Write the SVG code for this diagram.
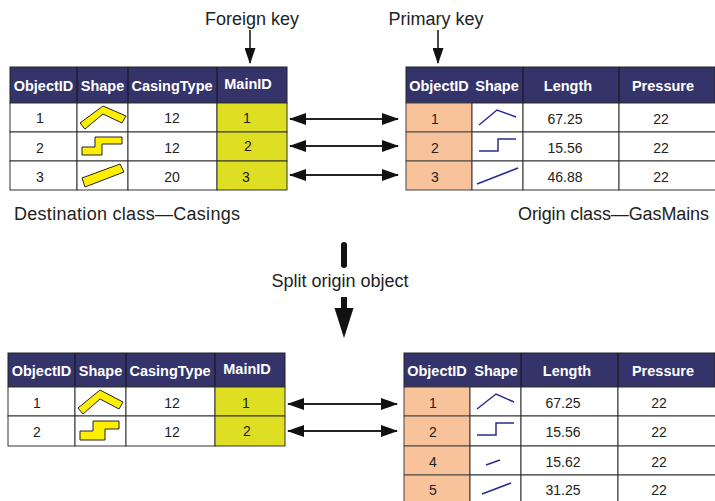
<svg xmlns="http://www.w3.org/2000/svg" width="715" height="501" viewBox="0 0 715 501">
<style>
text{font-family:"Liberation Sans",Arial,sans-serif;}
.hd{fill:#34346a;stroke:#222;stroke-width:1;}
.cell{fill:#fff;stroke:#333;stroke-width:1;}
.fk{fill:#dede22;stroke:#333;stroke-width:1;}
.pk{fill:#f8c39b;stroke:#444;stroke-width:1;}
.ht{fill:#fff;font-size:14.5px;font-weight:bold;text-anchor:middle;}
.ct{fill:#222;font-size:14px;text-anchor:middle;}
.lb{fill:#222;font-size:18px;}
.cas{fill:#ffee00;stroke:#222;stroke-width:1;stroke-linejoin:miter;}
.main{fill:none;stroke:#2b2b8f;stroke-width:1.5;}
.dbl{stroke:#222;stroke-width:2;fill:none;marker-start:url(#ah);marker-end:url(#ah);}
</style>
<defs>
<marker id="ah" viewBox="0 0 17 12" refX="16" refY="6" markerWidth="17" markerHeight="12" markerUnits="userSpaceOnUse" orient="auto-start-reverse">
<path d="M0,0 L17,6 L0,12 Z" fill="#111"/>
</marker>
<marker id="kh" viewBox="0 0 16 11" refX="15" refY="5.5" markerWidth="16" markerHeight="11" markerUnits="userSpaceOnUse" orient="auto">
<path d="M0,0 L16,5.5 L0,11 Z" fill="#111"/>
</marker>
</defs>
<rect width="715" height="501" fill="#fff"/>

<!-- Top left table: Casings -->
<g id="casings-top">
<rect class="hd" x="10" y="67" width="277" height="36"/>
<line x1="77" y1="67" x2="77" y2="103" stroke="#111"/>
<line x1="128" y1="67" x2="128" y2="103" stroke="#111"/>
<line x1="217" y1="67" x2="217" y2="103" stroke="#111"/>
<text class="ht" x="43.5" y="91">ObjectID</text>
<text class="ht" x="102.5" y="91">Shape</text>
<text class="ht" x="172" y="91">CasingType</text>
<text class="ht" x="248" y="89">MainID</text>
<rect class="cell" x="10" y="103" width="67" height="29"/>
<rect class="cell" x="77" y="103" width="51" height="29"/>
<rect class="cell" x="128" y="103" width="89" height="29"/>
<rect class="fk" x="217" y="103" width="70" height="29"/>
<rect class="cell" x="10" y="132" width="67" height="29"/>
<rect class="cell" x="77" y="132" width="51" height="29"/>
<rect class="cell" x="128" y="132" width="89" height="29"/>
<rect class="fk" x="217" y="132" width="70" height="29"/>
<rect class="cell" x="10" y="161" width="67" height="29"/>
<rect class="cell" x="77" y="161" width="51" height="29"/>
<rect class="cell" x="128" y="161" width="89" height="29"/>
<rect class="fk" x="217" y="161" width="70" height="29"/>
<polygon class="cas" points="85,129 80,123 103,106 126,116 122,123 103,114"/>
<polygon class="cas" points="82,147 95,147 95,137 122,137 122,144 102,144 102,155 82,155"/>
<polygon class="cas" points="85,187 82,178 120,164 124,172"/>
<text class="ct" x="40" y="123">1</text>
<text class="ct" x="172" y="123">12</text>
<text class="ct" x="247" y="123">1</text>
<text class="ct" x="40" y="153">2</text>
<text class="ct" x="172" y="153">12</text>
<text class="ct" x="248" y="151">2</text>
<text class="ct" x="40" y="182">3</text>
<text class="ct" x="172" y="182">20</text>
<text class="ct" x="246" y="182">3</text>
</g>

<!-- Top right table: GasMains -->
<g id="gasmains-top">
<rect class="hd" x="406" y="67" width="309" height="36"/>
<line x1="523" y1="67" x2="523" y2="103" stroke="#111"/>
<line x1="619" y1="67" x2="619" y2="103" stroke="#111"/>
<text class="ht" x="439" y="91">ObjectID</text>
<text class="ht" x="497" y="91">Shape</text>
<text class="ht" x="568" y="91">Length</text>
<text class="ht" x="663" y="91">Pressure</text>
<rect class="pk" x="406" y="103" width="66" height="29"/>
<rect class="cell" x="472" y="103" width="51" height="29"/>
<rect class="cell" x="523" y="103" width="96" height="29"/>
<rect class="cell" x="619" y="103" width="97" height="29"/>
<rect class="pk" x="406" y="132" width="66" height="29"/>
<rect class="cell" x="472" y="132" width="51" height="29"/>
<rect class="cell" x="523" y="132" width="96" height="29"/>
<rect class="cell" x="619" y="132" width="97" height="29"/>
<rect class="pk" x="406" y="161" width="66" height="29"/>
<rect class="cell" x="472" y="161" width="51" height="29"/>
<rect class="cell" x="523" y="161" width="96" height="29"/>
<rect class="cell" x="619" y="161" width="97" height="29"/>
<polyline class="main" points="479,125 497,110 516,117"/>
<polyline class="main" points="479,151 498,151 498,139 516,139"/>
<polyline class="main" points="477,184 518,168"/>
<text class="ct" x="435" y="124">1</text>
<text class="ct" x="565" y="124">67.25</text>
<text class="ct" x="661" y="124">22</text>
<text class="ct" x="435" y="153">2</text>
<text class="ct" x="565" y="153">15.56</text>
<text class="ct" x="661" y="153">22</text>
<text class="ct" x="435" y="182">3</text>
<text class="ct" x="565" y="182">46.88</text>
<text class="ct" x="661" y="182">22</text>
</g>

<!-- Bottom left table: Casings -->
<g id="casings-bottom">
<rect class="hd" x="8" y="353" width="277" height="34"/>
<line x1="75" y1="353" x2="75" y2="387" stroke="#111"/>
<line x1="126" y1="353" x2="126" y2="387" stroke="#111"/>
<line x1="215" y1="353" x2="215" y2="387" stroke="#111"/>
<text class="ht" x="41.5" y="376">ObjectID</text>
<text class="ht" x="100.5" y="376">Shape</text>
<text class="ht" x="170" y="376">CasingType</text>
<text class="ht" x="247" y="374">MainID</text>
<rect class="cell" x="8" y="387" width="67" height="29"/>
<rect class="cell" x="75" y="387" width="51" height="29"/>
<rect class="cell" x="126" y="387" width="89" height="29"/>
<rect class="fk" x="215" y="387" width="70" height="29"/>
<rect class="cell" x="8" y="416" width="67" height="30"/>
<rect class="cell" x="75" y="416" width="51" height="30"/>
<rect class="cell" x="126" y="416" width="89" height="30"/>
<rect class="fk" x="215" y="416" width="70" height="30"/>
<polygon class="cas" points="83,414 78,408 100,390 123,402 119,409 100,399"/>
<polygon class="cas" points="80,431 93,431 93,421 119,421 119,429 105,429 105,440 80,440"/>
<text class="ct" x="37" y="408">1</text>
<text class="ct" x="172" y="408">12</text>
<text class="ct" x="246" y="408">1</text>
<text class="ct" x="37" y="437">2</text>
<text class="ct" x="172" y="437">12</text>
<text class="ct" x="247" y="436">2</text>
</g>

<!-- Bottom right table: GasMains -->
<g id="gasmains-bottom">
<rect class="hd" x="404" y="353" width="311" height="34"/>
<line x1="521" y1="353" x2="521" y2="387" stroke="#111"/>
<line x1="618" y1="353" x2="618" y2="387" stroke="#111"/>
<text class="ht" x="437" y="376">ObjectID</text>
<text class="ht" x="496" y="376">Shape</text>
<text class="ht" x="567" y="376">Length</text>
<text class="ht" x="663" y="376">Pressure</text>
<rect class="pk" x="404" y="387" width="66" height="29"/>
<rect class="cell" x="470" y="387" width="51" height="29"/>
<rect class="cell" x="521" y="387" width="97" height="29"/>
<rect class="cell" x="618" y="387" width="98" height="29"/>
<rect class="pk" x="404" y="416" width="66" height="30"/>
<rect class="cell" x="470" y="416" width="51" height="30"/>
<rect class="cell" x="521" y="416" width="97" height="30"/>
<rect class="cell" x="618" y="416" width="98" height="30"/>
<rect class="pk" x="404" y="446" width="66" height="29"/>
<rect class="cell" x="470" y="446" width="51" height="29"/>
<rect class="cell" x="521" y="446" width="97" height="29"/>
<rect class="cell" x="618" y="446" width="98" height="29"/>
<rect class="pk" x="404" y="475" width="66" height="30"/>
<rect class="cell" x="470" y="475" width="51" height="30"/>
<rect class="cell" x="521" y="475" width="97" height="30"/>
<rect class="cell" x="618" y="475" width="98" height="30"/>
<polyline class="main" points="477,409 496,394 514,402"/>
<polyline class="main" points="477,435 496,435 496,423 514,423"/>
<polyline class="main" points="486,465 500,460"/>
<polyline class="main" points="482,494 511,483"/>
<text class="ct" x="433" y="408">1</text>
<text class="ct" x="563" y="408">67.25</text>
<text class="ct" x="659" y="408">22</text>
<text class="ct" x="433" y="437">2</text>
<text class="ct" x="563" y="437">15.56</text>
<text class="ct" x="659" y="437">22</text>
<text class="ct" x="433" y="467">4</text>
<text class="ct" x="563" y="467">15.62</text>
<text class="ct" x="659" y="467">22</text>
<text class="ct" x="433" y="495">5</text>
<text class="ct" x="563" y="495">31.25</text>
<text class="ct" x="659" y="495">22</text>
</g>

<!-- Labels -->
<g id="labels">
<text class="lb" x="252" y="25" text-anchor="middle">Foreign key</text>
<text class="lb" x="436" y="25" text-anchor="middle">Primary key</text>
<text class="lb" x="14" y="220" textLength="226" lengthAdjust="spacing">Destination class—Casings</text>
<text class="lb" x="518" y="220" textLength="191" lengthAdjust="spacing">Origin class—GasMains</text>
<text class="lb" x="340" y="287" text-anchor="middle">Split origin object</text>
</g>

<!-- Connectors -->
<g id="connectors">
<line x1="250" y1="30" x2="250" y2="63" stroke="#111" stroke-width="1.5" marker-end="url(#kh)"/>
<line x1="438" y1="30" x2="438" y2="63" stroke="#111" stroke-width="1.5" marker-end="url(#kh)"/>
<line class="dbl" x1="290" y1="119" x2="398" y2="119"/>
<line class="dbl" x1="290" y1="146" x2="398" y2="146"/>
<line class="dbl" x1="290" y1="175" x2="398" y2="175"/>
<line class="dbl" x1="288" y1="404" x2="397" y2="404"/>
<line class="dbl" x1="288" y1="431" x2="397" y2="431"/>
<line x1="344" y1="245" x2="344" y2="265" stroke="#111" stroke-width="6" stroke-linecap="round"/>
<line x1="344" y1="297" x2="344" y2="310" stroke="#111" stroke-width="6"/>
<polygon points="334.5,308 353.5,308 344,338" fill="#111"/>
</g>
</svg>
